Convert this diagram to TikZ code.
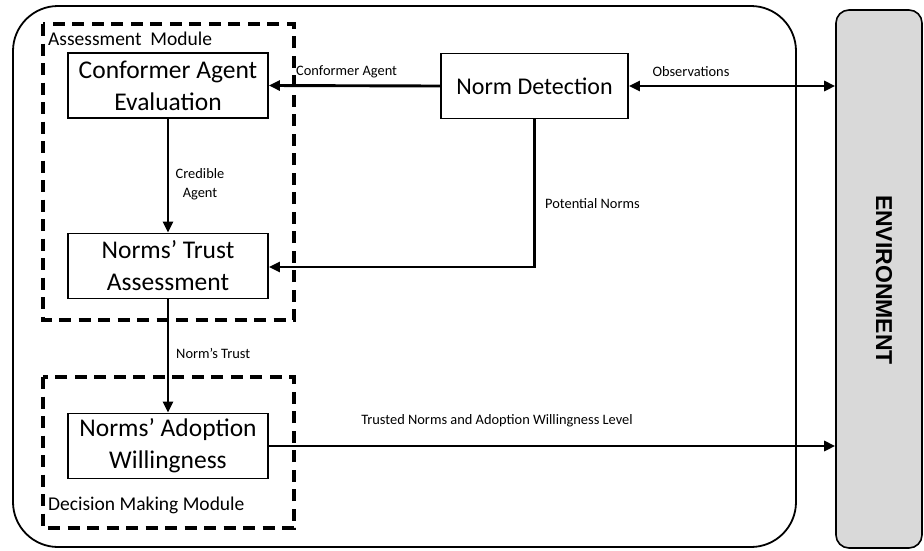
\documentclass[tikz,border=0pt]{standalone}
\usepackage{fontspec}
\setmainfont{Carlito}
\newfontfamily\envfont{Liberation Sans}
\usetikzlibrary{arrows.meta}

\begin{document}
\begin{tikzpicture}[x=1pt,y=-1pt,
  proc/.style={draw, line width=1.8pt, minimum width=200pt, minimum height=65pt,
    align=center, inner sep=0pt, font=\fontsize{25.5}{32}\selectfont},
  module/.style={draw, line width=3.2pt, dash pattern=on 12pt off 7.5pt},
  modlab/.style={anchor=west, inner sep=0pt, font=\fontsize{19.5}{23}\selectfont},
  flow/.style={line width=2.9pt, -{Triangle[length=11pt,width=10pt]}},
  biflow/.style={line width=2.9pt, {Triangle[length=11pt,width=10pt]}-{Triangle[length=11pt,width=10pt]}},
  lab/.style={inner sep=0pt, align=center, font=\fontsize{14.4}{19}\selectfont}]
\useasboundingbox (0,0) rectangle (924,550);

% agent boundary
\draw[line width=1.8pt, rounded corners=45pt] (13,6) rectangle (796,547);

% environment
\node[draw, line width=1.6pt, rounded corners=13pt, fill=black!15,
      minimum width=86pt, minimum height=538pt, inner sep=0pt] (env) at (879,279) {};
\node[inner sep=0pt, font=\envfont\fontsize{23}{28}\selectfont\bfseries]
      (envlab) at (884,280) {\rotatebox{-90}{ENVIRONMENT}};

% modules
\draw[module] (43,24) rectangle (294,320);
\draw[module] (43,377) rectangle (294,528);
\node[modlab] (amlab) at (48,39) {Assessment\ \ Module};
\node[modlab] (dmlab) at (48,505) {Decision Making Module};

% processes
\node[proc] (cae) at (168,85.5) {Conformer Agent\\Evaluation};
\node[proc] (nta) at (168,266) {Norms’ Trust\\Assessment};
\node[proc] (naw) at (168,446) {Norms’ Adoption\\Willingness};
\node[proc, minimum width=187pt, font=\fontsize{24}{30}\selectfont] (nd) at (534.5,86) {Norm Detection};

% flows
\draw[flow] (nd.west) -- (cae.east);
\draw[biflow] (nd.east) -- (nd.east -| env.west);
\draw[flow] (nd.south) |- (nta.east |- 0,267);
\draw[flow] (cae.south) -- (nta.north);
\draw[flow] (nta.south) -- (naw.north);
\draw[flow] (naw.east) -- (naw.east -| env.west);

% flow labels
\node[lab, anchor=west] (l1) at (296,72) {Conformer Agent};
\node[lab] (l2) at (691,72) {Observations};
\node[lab, anchor=west] (l3) at (545,204) {Potential Norms};
\node[lab] (l4) at (200,184) {Credible\\Agent};
\node[lab, anchor=west] (l5) at (176,353) {Norm’s Trust};
\node[lab] (l6) at (497,421) {Trusted Norms and Adoption Willingness Level};
\end{tikzpicture}
\end{document}
